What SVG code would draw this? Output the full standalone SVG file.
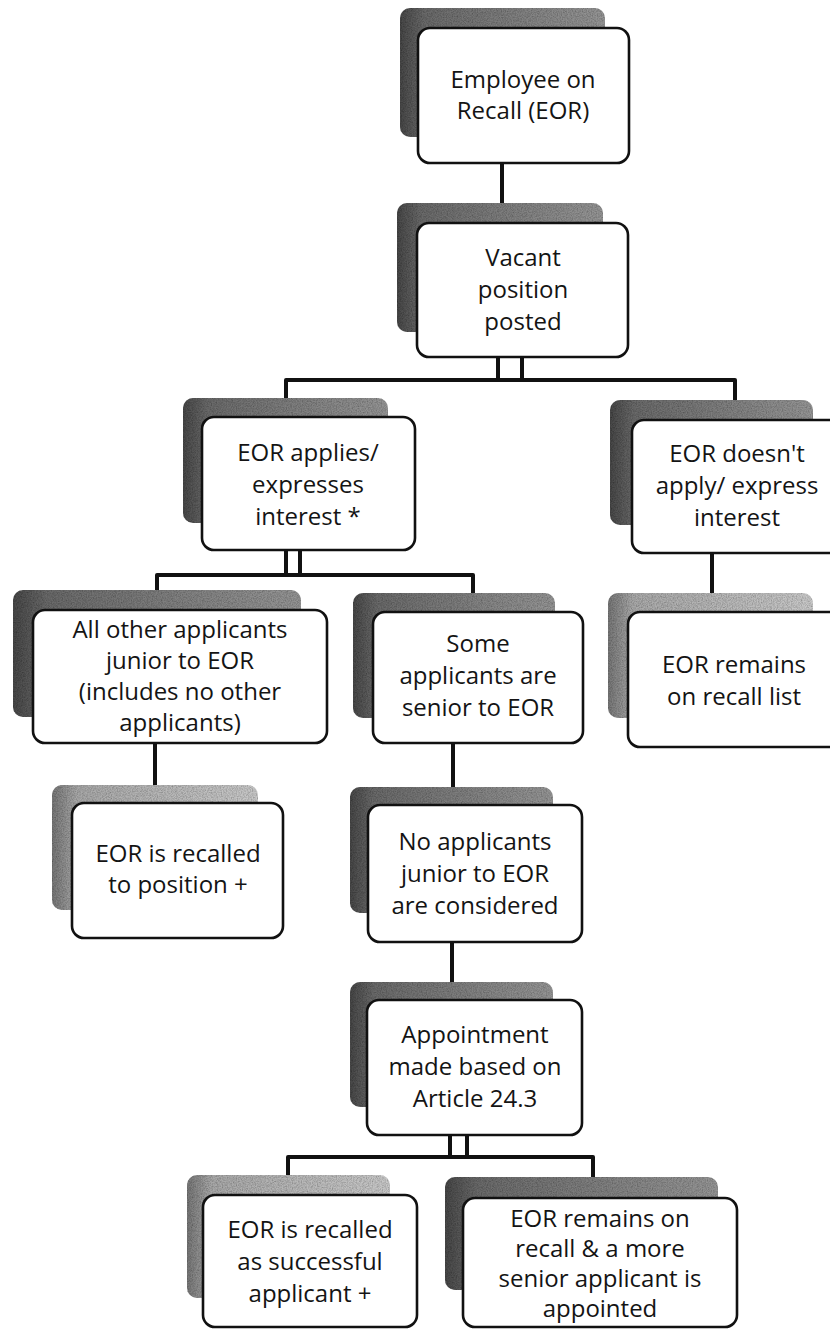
<svg xmlns="http://www.w3.org/2000/svg" width="830" height="1329" viewBox="0 0 830 1329">
<style>
.sh{stroke:none;filter:url(#grain)}
.bx{fill:#ffffff;stroke:#111111;stroke-width:2.6}
.t{font-family:"Open Sans","Liberation Sans",sans-serif;font-size:24px;fill:#141414;text-anchor:middle}
.c{fill:none;stroke:#111111;stroke-width:4;stroke-linecap:square;stroke-linejoin:round}
</style>
<defs>
<linearGradient id="gd" x1="0" y1="0" x2="1" y2="0">
<stop offset="0" stop-color="#484848"/>
<stop offset="0.12" stop-color="#6a6a6a"/>
<stop offset="1" stop-color="#959595"/>
</linearGradient>
<linearGradient id="gl" x1="0" y1="0" x2="1" y2="0">
<stop offset="0" stop-color="#767676"/>
<stop offset="0.12" stop-color="#a8a8a8"/>
<stop offset="1" stop-color="#c8c8c8"/>
</linearGradient>
<filter id="grain" x="0" y="0" width="100%" height="100%">
<feTurbulence type="fractalNoise" baseFrequency="0.8" numOctaves="2" seed="4" result="n"/>
<feColorMatrix in="n" type="matrix" values="0 0 0 0 0  0 0 0 0 0  0 0 0 0 0  0.9 0 0 0 -0.3" result="na"/>
<feComposite in="na" in2="SourceGraphic" operator="in" result="nc"/>
<feMerge><feMergeNode in="SourceGraphic"/><feMergeNode in="nc"/></feMerge>
</filter>
</defs>
<rect width="830" height="1329" fill="#ffffff"/>
<g id="connectors">
<path class="c" d="M502,163 V203"/>
<path class="c" d="M498,357 V380 M522,357 V380"/>
<path class="c" d="M286,398 V380 H735 V400"/>
<path class="c" d="M286,550 V575 M300,550 V575"/>
<path class="c" d="M157,590 V575 H473 V593"/>
<path class="c" d="M712,553 V593"/>
<path class="c" d="M155,743 V785"/>
<path class="c" d="M453,743 V787"/>
<path class="c" d="M452,942 V982"/>
<path class="c" d="M450,1135 V1157 M467,1135 V1157"/>
<path class="c" d="M288,1175 V1157 H593 V1180"/>
</g>
<g id="n1">
<rect class="sh" x="400" y="8" width="205" height="129" rx="10" fill="url(#gd)"/>
<rect class="bx" x="418" y="28" width="211" height="135" rx="12"/>
<text class="t" x="523" y="88">Employee on</text>
<text class="t" x="523" y="119">Recall (EOR)</text>
</g>
<g id="n2">
<rect class="sh" x="397" y="203" width="206" height="129" rx="10" fill="url(#gd)"/>
<rect class="bx" x="417" y="223" width="211" height="134" rx="12"/>
<text class="t" x="523" y="266">Vacant</text>
<text class="t" x="523" y="298">position</text>
<text class="t" x="523" y="330">posted</text>
</g>
<g id="n3">
<rect class="sh" x="183" y="398" width="205" height="125" rx="10" fill="url(#gd)"/>
<rect class="bx" x="202" y="417" width="213" height="133" rx="12"/>
<text class="t" x="308" y="461">EOR applies/</text>
<text class="t" x="308" y="493">expresses</text>
<text class="t" x="308" y="525">interest *</text>
</g>
<g id="n4">
<rect class="sh" x="610" y="400" width="203" height="125" rx="10" fill="url(#gd)"/>
<rect class="bx" x="632" y="420" width="213" height="133" rx="12"/>
<text class="t" x="737" y="462">EOR doesn't</text>
<text class="t" x="737" y="494">apply/ express</text>
<text class="t" x="737" y="526">interest</text>
</g>
<g id="n5">
<rect class="sh" x="13" y="590" width="288" height="127" rx="10" fill="url(#gd)"/>
<rect class="bx" x="33" y="610" width="294" height="133" rx="12"/>
<text class="t" x="180" y="638">All other applicants</text>
<text class="t" x="180" y="669">junior to EOR</text>
<text class="t" x="180" y="700">(includes no other</text>
<text class="t" x="180" y="731">applicants)</text>
</g>
<g id="n6">
<rect class="sh" x="353" y="593" width="202" height="125" rx="10" fill="url(#gd)"/>
<rect class="bx" x="373" y="612" width="210" height="131" rx="12"/>
<text class="t" x="478" y="652">Some</text>
<text class="t" x="478" y="684">applicants are</text>
<text class="t" x="478" y="716">senior to EOR</text>
</g>
<g id="n7">
<rect class="sh" x="608" y="593" width="205" height="125" rx="10" fill="url(#gl)"/>
<rect class="bx" x="628" y="612" width="215" height="135" rx="12"/>
<text class="t" x="734" y="673">EOR remains</text>
<text class="t" x="734" y="705">on recall list</text>
</g>
<g id="n8">
<rect class="sh" x="52" y="785" width="206" height="125" rx="10" fill="url(#gl)"/>
<rect class="bx" x="72" y="803" width="211" height="135" rx="12"/>
<text class="t" x="178" y="862">EOR is recalled</text>
<text class="t" x="178" y="893">to position +</text>
</g>
<g id="n9">
<rect class="sh" x="350" y="787" width="203" height="126" rx="10" fill="url(#gd)"/>
<rect class="bx" x="368" y="805" width="214" height="137" rx="12"/>
<text class="t" x="475" y="850">No applicants</text>
<text class="t" x="475" y="882">junior to EOR</text>
<text class="t" x="475" y="914">are considered</text>
</g>
<g id="n10">
<rect class="sh" x="350" y="982" width="203" height="125" rx="10" fill="url(#gd)"/>
<rect class="bx" x="367" y="1000" width="215" height="135" rx="12"/>
<text class="t" x="475" y="1043">Appointment</text>
<text class="t" x="475" y="1075">made based on</text>
<text class="t" x="475" y="1107">Article 24.3</text>
</g>
<g id="n11">
<rect class="sh" x="187" y="1175" width="203" height="123" rx="10" fill="url(#gl)"/>
<rect class="bx" x="203" y="1195" width="214" height="132" rx="12"/>
<text class="t" x="310" y="1238">EOR is recalled</text>
<text class="t" x="310" y="1270">as successful</text>
<text class="t" x="310" y="1302">applicant +</text>
</g>
<g id="n12">
<rect class="sh" x="445" y="1177" width="273" height="113" rx="10" fill="url(#gd)"/>
<rect class="bx" x="463" y="1198" width="274" height="129" rx="12"/>
<text class="t" x="600" y="1227">EOR remains on</text>
<text class="t" x="600" y="1257">recall &amp; a more</text>
<text class="t" x="600" y="1287">senior applicant is</text>
<text class="t" x="600" y="1317">appointed</text>
</g>
</svg>
